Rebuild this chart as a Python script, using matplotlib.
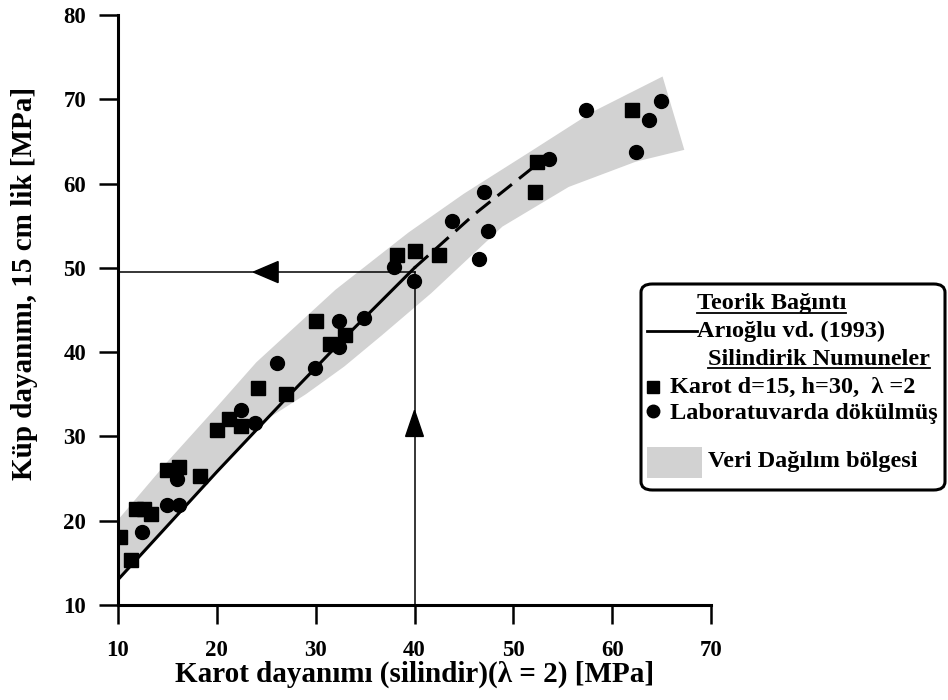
import matplotlib
matplotlib.use('Agg')
from matplotlib import pyplot as plt
from matplotlib.patches import FancyBboxPatch, Rectangle
from matplotlib.lines import Line2D

plt.rcParams['font.family'] = ['Liberation Serif', 'DejaVu Serif']
plt.rcParams['font.weight'] = 'bold'

# Karot d=15, h=30 (squares)
karot_x = [10.2, 11.3, 11.8, 12.6, 13.3, 15.0, 16.2, 18.3, 20.0, 21.2, 22.4, 24.2, 27.0,
           30.0, 31.4, 33.0, 38.2, 40.0, 42.5, 52.2, 52.4, 62.0]
karot_y = [18.1, 15.3, 21.4, 21.4, 20.8, 26.0, 26.4, 25.3, 30.8, 32.1, 31.2, 35.7, 35.0,
           43.7, 41.0, 42.0, 51.5, 52.0, 51.5, 59.0, 62.6, 68.7]

# Laboratuvarda dokulmus (circles)
lab_x = [12.4, 15.0, 16.2, 16.0, 22.4, 23.9, 26.1, 29.9, 32.4, 32.4, 34.9, 37.9, 39.9,
         43.8, 46.5, 47.0, 47.4, 53.6, 57.4, 62.4, 63.7, 64.9]
lab_y = [18.7, 21.9, 21.9, 25.0, 33.1, 31.6, 38.7, 38.1, 40.6, 43.7, 44.0, 50.1, 48.4,
         55.6, 51.0, 59.0, 54.4, 62.9, 68.7, 63.8, 67.5, 69.8]

# Arioglu vd. (1993) curve
line_x = [10, 20, 27, 33, 40]
line_y = [13.0, 25.8, 34.5, 41.8, 50.0]
dash_x = [40, 46, 52.3]
dash_y = [50.0, 56.3, 62.2]

# scatter band
band_up_x = [10, 15, 20, 24, 32, 39.4, 45, 52, 58, 65.1]
band_up_y = [20.1, 27.0, 33.5, 38.8, 47.4, 54.2, 58.8, 64.0, 68.5, 72.7]
band_lo_x = [67.3, 62.4, 55.6, 48.9, 41.7, 36.7, 32.9, 29.0, 25.0, 20, 10]
band_lo_y = [64.0, 62.6, 59.6, 54.9, 47.0, 42.0, 38.3, 35.0, 32.0, 25.8, 13.0]

fig = plt.figure(figsize=(9.48, 7.0), dpi=100)
ax = fig.add_axes([118 / 948, 95 / 700, 593 / 948, 590 / 700])

ax.fill(band_up_x + band_lo_x, band_up_y + band_lo_y, facecolor='#d2d2d2',
        edgecolor='none', zorder=1)
ax.plot(line_x, line_y, color='black', lw=2.2, zorder=3)
ax.plot(dash_x, dash_y, color='black', lw=2.2, dashes=(6, 3), zorder=3)

# reading arrows
ax.plot([10, 40], [49.5, 49.5], color='black', lw=1.1, zorder=2)
ax.plot([40, 40], [10, 49.5], color='black', lw=1.1, zorder=2)
ax.fill([23.7, 26.2, 26.2], [49.5, 50.75, 48.25], color='black', zorder=4)
ax.fill([40, 39.1, 40.9], [33.1, 30.0, 30.0], color='black', zorder=4)

ax.plot(karot_x, karot_y, 's', color='black', ms=9.5, zorder=5)
ax.plot(lab_x, lab_y, 'o', color='black', ms=10, zorder=5)

ax.set_xlim(10, 70)
ax.set_ylim(10, 80)
ax.set_xticks(range(10, 71, 10))
ax.set_yticks(range(10, 81, 10))
ax.spines['top'].set_visible(False)
ax.spines['right'].set_visible(False)
for s in ['left', 'bottom']:
    ax.spines[s].set_linewidth(2.2)
    ax.spines[s].set_zorder(6)
ax.tick_params(direction='out', length=14, width=1.8, labelsize=16.5)
ax.tick_params(axis='x', pad=11)
ax.tick_params(axis='y', pad=9)
for lb in ax.get_xticklabels() + ax.get_yticklabels():
    lb.set_fontweight('bold')
ax.set_xlabel('Karot dayanımı (silindir)(λ = 2) [MPa]', fontsize=21, fontweight='bold', labelpad=0)
ax.set_ylabel('Küp dayanımı, 15 cm lik [MPa]', fontsize=21, fontweight='bold', labelpad=10)
ax.yaxis.set_label_coords(-0.135, 0.545)

# legend box drawn in figure pixels
def P(x, y):
    return x / 948, 1 - y / 700

box = FancyBboxPatch(P(641, 490), 304 / 948, 206 / 700, boxstyle='round,pad=0,rounding_size=0.012',
                     transform=fig.transFigure, facecolor='white', edgecolor='black', lw=2.2,
                     zorder=10)
fig.patches.append(box)
fs = 17.5
t1 = fig.text(*P(697, 304), 'Teorik Bağıntı', fontsize=fs, fontweight='bold', va='center',
              ha='left', zorder=11)
fig.lines.append(Line2D([P(647, 0)[0], P(697, 0)[0]], [P(0, 331)[1]] * 2, color='black', lw=2,
                        transform=fig.transFigure, zorder=11))
fig.text(*P(697, 331), 'Arıoğlu vd. (1993)', fontsize=fs, fontweight='bold', va='center',
         ha='left', zorder=11)
t2 = fig.text(*P(708, 359), 'Silindirik Numuneler', fontsize=fs, fontweight='bold', va='center',
              ha='left', zorder=11)
fig.lines.append(Line2D([P(653, 0)[0]], [P(0, 387)[1]], marker='s', color='black', ms=9,
                        transform=fig.transFigure, zorder=11))
fig.text(*P(670, 387), 'Karot d=15, h=30,  λ =2', fontsize=fs, fontweight='bold', va='center',
         ha='left', zorder=11)
fig.lines.append(Line2D([P(653, 0)[0]], [P(0, 411)[1]], marker='o', color='black', ms=9,
                        transform=fig.transFigure, zorder=11))
fig.text(*P(670, 413), 'Laboratuvarda dökülmüş', fontsize=fs, fontweight='bold', va='center',
         ha='left', zorder=11)
fig.patches.append(Rectangle(P(647, 478), 55 / 948, 31 / 700, transform=fig.transFigure,
                             facecolor='#d2d2d2', edgecolor='none', zorder=11))
fig.text(*P(708, 461), 'Veri Dağılım bölgesi', fontsize=fs, fontweight='bold', va='center',
         ha='left', zorder=12)

# underline the two legend headings
fig.canvas.draw()
inv = fig.transFigure.inverted()
for t, yl in [(t1, 313), (t2, 368)]:
    bb = t.get_window_extent()
    x0 = inv.transform((bb.x0, 0))[0]
    x1 = inv.transform((bb.x1, 0))[0]
    fig.lines.append(Line2D([x0, x1], [P(0, yl)[1]] * 2, color='black', lw=1.3,
                            transform=fig.transFigure, zorder=11))

fig.savefig('out.png', dpi=100)
